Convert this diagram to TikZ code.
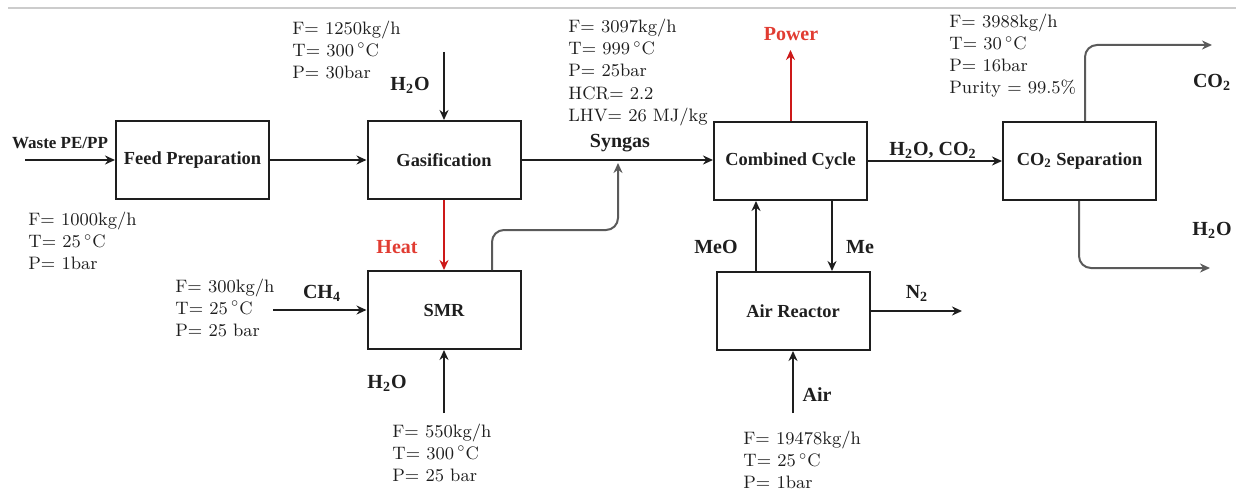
\documentclass[tikz,border=0pt]{standalone}
\usepackage{fontspec}
\newfontfamily\labfont{Liberation Serif}
\usetikzlibrary{arrows.meta}
\definecolor{ink}{RGB}{30,30,30}
\definecolor{flowred}{RGB}{205,25,25}
\definecolor{labred}{RGB}{225,60,50}
\definecolor{greyline}{RGB}{90,90,90}
\newcommand{\mydegC}{\,$^{\circ}$C}
\begin{document}
\begin{tikzpicture}[x=0.5pt,y=-0.5pt,
  blk/.style={draw=ink,line width=1pt,minimum width=76.5pt,minimum height=39pt,inner sep=0pt,
    font=\labfont\bfseries\fontsize{9.2}{11}\selectfont,text=ink},
  lbl/.style={inner sep=0pt,font=\labfont\bfseries\fontsize{10}{12}\selectfont,text=ink},
  data/.style={inner sep=0pt,anchor=west,align=left,font=\fontsize{9}{11}\selectfont,text=ink},
  flow/.style={draw=ink,line width=1pt,-{Stealth[length=5pt,width=4.5pt]}},
  redflow/.style={flow,draw=flowred,-{Stealth[length=5pt,width=4.5pt,fill=flowred]}},
  greyflow/.style={flow,draw=greyline,rounded corners=6pt}
]
\useasboundingbox (0,0) rectangle (1236,492);
\draw[gray!40,line width=0.6pt] (8,8) -- (1236,8);

% blocks
\node[blk] (feed) at (192.5,160) {Feed Preparation};
\node[blk] (gas)  at (444,160) {Gasification};
\node[blk] (smr)  at (444,310) {SMR};
\node[blk] (cc)   at (790.5,161) {Combined Cycle};
\node[blk] (air)  at (793,311) {Air Reactor};
\node[blk] (sep)  at (1079.5,161) {CO\textsubscript{2} Separation};

% free ends
\coordinate (wastein) at (25,160);
\coordinate (h2otop) at (444,52);
\coordinate (ch4in) at (273,310);
\coordinate (h2obot) at (444,413);
\coordinate (syn) at (618,163);
\coordinate (pw) at (790.5,50);
\coordinate (n2out) at (962,311);
\coordinate (airin) at (793,413);
\coordinate (co2out) at (1212,45);
\coordinate (h2oout) at (1210,268);

% connectors
\draw[flow] (wastein) -- (feed.west);
\draw[flow] (feed.east) -- (gas.west);
\draw[flow] (h2otop) -- (gas.north);
\draw[flow] (gas.east) -- (gas.east -| cc.west);
\draw[redflow] (gas.south) -- (smr.north);
\draw[flow] (ch4in) -- (smr.west);
\draw[flow] (h2obot) -- (smr.south);
\draw[greyflow] (smr.north -| 492,0) -- (492,230) -- (618,230) -- (syn);
\draw[redflow] (cc.north) -- (pw);
\draw[flow] (air.north -| 756,0) -- (cc.south -| 756,0);
\draw[flow] (cc.south -| 832,0) -- (air.north -| 832,0);
\draw[flow] (air.east) -- (n2out);
\draw[flow] (airin) -- (air.south);
\draw[flow] (cc.east) -- (sep.west);
\draw[greyflow] (sep.north -| 1085,0) -- (1085,45) -- (co2out);
\draw[greyflow] (sep.south -| 1079,0) -- (1079,268) -- (h2oout);

% stream labels
\node[lbl,font=\labfont\bfseries\fontsize{8.5}{10}\selectfont] (lwaste) at (60,143) {Waste PE/PP};
\node[lbl] (lh2otop) at (410,85) {H\textsubscript{2}O};
\node[lbl] (lsyn) at (620,143) {Syngas};
\node[lbl,text=labred] (lheat) at (397,247) {Heat};
\node[lbl] (lch4) at (322,293) {CH\textsubscript{4}};
\node[lbl] (lh2obot) at (387,383) {H\textsubscript{2}O};
\node[lbl,text=labred] (lpower) at (791,34) {Power};
\node[lbl] (lmeo) at (716,247) {MeO};
\node[lbl] (lme) at (860,247) {Me};
\node[lbl] (ln2) at (917,293) {N\textsubscript{2}};
\node[lbl] (lair) at (817,395) {Air};
\node[lbl] (lmix) at (933,150) {H\textsubscript{2}O, CO\textsubscript{2}};
\node[lbl] (lco2) at (1212,82) {CO\textsubscript{2}};
\node[lbl] (lh2oout) at (1212,230) {H\textsubscript{2}O};

% data blocks
\node[data] (dfeed) at (28,241) {F= 1000kg/h\\T= 25\mydegC\\P= 1bar};
\node[data] (dgas) at (292,50) {F= 1250kg/h\\T= 300\mydegC\\P= 30bar};
\node[data] (dsyn) at (568,72.5) {F= 3097kg/h\\T= 999\mydegC\\P= 25bar\\HCR= 2.2\\LHV= 26 MJ/kg};
\node[data] (dsep) at (949,56) {F= 3988kg/h\\T= 30\mydegC\\P= 16bar\\Purity = 99.5\%};
\node[data] (dch4) at (175,308) {F= 300kg/h\\T= 25\mydegC\\P= 25 bar};
\node[data] (dh2o) at (392,453) {F= 550kg/h\\T= 300\mydegC\\P= 25 bar};
\node[data] (dair) at (743,460) {F= 19478kg/h\\T= 25\mydegC\\P= 1bar};
\end{tikzpicture}
\end{document}
